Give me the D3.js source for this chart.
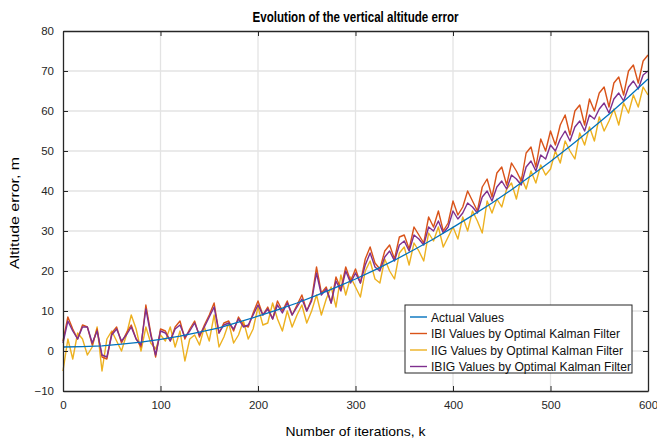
<!DOCTYPE html>
<html>
<head>
<meta charset="utf-8">
<script src="https://cdn.jsdelivr.net/npm/d3@7"></script>
<style>
  body { margin: 0; background: #fff; }
  text { font-family: "Liberation Sans", Arial, sans-serif; }
</style>
</head>
<body>
<div id="chart"></div>
<script>
const MARGIN = {TOP: 31, BOTTOM: 49, LEFT: 63, RIGHT: 9}
const W = 657, H = 440
const WIDTH = W - MARGIN.LEFT - MARGIN.RIGHT
const HEIGHT = H - MARGIN.TOP - MARGIN.BOTTOM

// actual values, every 20 iterations
const actualK = [0, 20, 40, 60, 80, 100, 120, 140, 160, 180, 200, 220, 240, 260, 280, 300,
  320, 340, 360, 380, 400, 420, 440, 460, 480, 500, 520, 540, 560, 580, 600]
const actual = [1.0, 1.1, 1.3, 1.7, 2.2, 2.9, 3.7, 4.7, 5.8, 7.2, 8.7, 10.3, 12.0, 13.9, 15.9, 18.0,
  20.3, 22.7, 25.3, 28.0, 30.9, 33.9, 37.0, 40.3, 43.8, 47.4, 51.2, 55.1, 59.2, 63.5, 68.0]

// filter estimates, every 5 iterations (0..600)
const iters = d3.range(0, 601, 5)
const ibi = [2.5, 8.5, 5.5, 3, 6.5, 6, 1.5, 5.5, -1.5, -2, 4.5, 6, 2, 4.5, 6.5, 3, 1, 11.5, 4.5, -1.5,
  5.5, 5, 2.5, 6, 7.5, 3, 5.5, 7.5, 3.5, 6.5, 9, 12, 4.5, 7, 7.5, 5, 8.5, 6.5, 6, 9.5,
  12.5, 9, 11, 8, 12.5, 10, 12.5, 9, 11.5, 14, 10, 13, 21, 14.5, 16, 12, 18.5, 15.5, 21, 17.5,
  20.5, 17, 23, 26, 22, 20.5, 25, 26.5, 23, 28.5, 29, 25.5, 31, 29, 27, 33.5, 31, 35, 30, 32,
  37.5, 34, 36, 40, 37.5, 35, 41, 43, 38.5, 44.5, 46, 41.5, 47, 45, 42.5, 49.5, 51, 46, 53, 50,
  55, 51.5, 56.5, 59, 54, 60, 61.5, 56.5, 63, 60, 64.5, 66, 61, 67, 68.5, 64, 70, 71.5, 67, 72.5, 74]
const iig = [-5, 3, -2, 4.5, 3, -1, 1, 6, -5, 3, 5, 2.5, 0, 4, 9, 5.5, 0, 6, 2, 0.5,
  4, 2.5, 6, 1, 5, -2.5, 3, 4, 1.5, 6, 2.5, 9, 1, 3.5, 7, 2, 4, 7.5, 3, 5.5,
  11, 6.5, 7, 12, 8, 5, 10, 6, 9, 11.5, 7, 10, 14, 9, 13, 16, 11, 19, 14, 18.5,
  16, 13.5, 20, 22.5, 18, 17, 23, 20, 18, 24.5, 26, 21.5, 27, 25, 22.5, 29.5, 27.5, 31, 26, 28.5,
  31, 28, 33.5, 30, 35, 32.5, 29.5, 37.5, 34.5, 38, 36, 40.5, 42, 38, 43.5, 40.5, 45, 42, 46.5, 44,
  45.5, 50, 47, 52.5, 50, 48, 54.5, 51.5, 56, 52.5, 58.5, 55, 57.5, 60.5, 56.5, 62, 59.5, 64, 61, 66, 64]
const ibig = [2, 7.5, 5, 3, 6, 6, 2, 5, -1, -1.5, 4, 5.5, 2.5, 4, 6, 3, 1.5, 10.5, 4, -1,
  5, 4.5, 2.5, 5.5, 6.5, 3.5, 5, 7, 4, 6, 8.5, 11, 4.5, 6.5, 7, 5.5, 8, 6, 6.5, 9,
  11.5, 9, 10.5, 8, 11.5, 9.5, 12, 9, 11, 13, 10, 12.5, 19.5, 14, 15.5, 12, 17.5, 15, 20, 17,
  19.5, 17, 21.5, 24.5, 21, 20, 23.5, 25, 22.5, 26.5, 27.5, 25, 29, 28, 26.5, 31, 30, 32.5, 29.5, 31,
  35, 33, 34.5, 37, 36, 34.5, 38.5, 40, 37.5, 41, 42.5, 40.5, 44, 43, 41.5, 46, 47.5, 45, 49, 48,
  51.5, 50, 53, 55, 52.5, 56, 57.5, 55, 59, 58, 60.5, 62, 59.5, 63, 64.5, 62.5, 66, 67.5, 65.5, 69, 70]

const xTicks = [0, 100, 200, 300, 400, 500, 600]
const yTicks = [-10, 0, 10, 20, 30, 40, 50, 60, 70, 80]
const names = ['Actual Values', 'IBI Values by Optimal Kalman Filter',
  'IIG Values by Optimal Kalman Filter', 'IBIG Values by Optimal Kalman Filter']
const nameWidths = [73, 189, 192, 200]
const colors = ['#0072BD', '#D95319', '#EDB120', '#7E2F8E']

const svg = d3.select('#chart').append('svg')
  .attr('width', W).attr('height', H)
const g = svg.append('g')
  .attr('transform', `translate(${MARGIN.LEFT}, ${MARGIN.TOP})`)

const x = d3.scaleLinear().domain([0, 600]).range([0, WIDTH])
const y = d3.scaleLinear().domain([-10, 80]).range([HEIGHT, 0])

// grid
g.append('g').selectAll('line').data(xTicks.slice(1, -1)).enter().append('line')
  .attr('x1', d => x(d)).attr('x2', d => x(d)).attr('y1', 0).attr('y2', HEIGHT)
  .attr('stroke', '#e3e3e3').attr('stroke-width', 1.3)
g.append('g').selectAll('line').data(yTicks.slice(1, -1)).enter().append('line')
  .attr('y1', d => y(d)).attr('y2', d => y(d)).attr('x1', 0).attr('x2', WIDTH)
  .attr('stroke', '#e3e3e3').attr('stroke-width', 1.3)

// series
const line = d3.line().x(d => x(d[0])).y(d => y(d[1]))
const series = [
  d3.zip(actualK, actual),
  d3.zip(iters, ibi),
  d3.zip(iters, iig),
  d3.zip(iters, ibig)
]
const order = [2, 1, 3, 0]
order.forEach(i => {
  g.append('path')
    .datum(series[i])
    .attr('d', line)
    .attr('fill', 'none')
    .attr('stroke', colors[i])
    .attr('stroke-width', i === 0 ? 1.3 : 1.4)
    .attr('stroke-linejoin', 'round')
})

// axes with inward ticks
const styleAxis = sel => {
  sel.select('.domain').attr('stroke', '#262626').attr('stroke-width', 1.3)
  sel.selectAll('.tick line').attr('stroke', '#262626')
  sel.selectAll('text').attr('font-size', 11.5).attr('fill', '#262626')
}
g.append('g').attr('transform', `translate(0, ${HEIGHT})`)
  .call(d3.axisBottom(x).tickValues(xTicks).tickSize(-5).tickSizeOuter(0).tickPadding(10))
  .call(styleAxis)
g.append('g')
  .call(d3.axisLeft(y).tickValues(yTicks).tickSize(-5).tickSizeOuter(0).tickPadding(9))
  .call(styleAxis)
g.append('g')
  .call(d3.axisTop(x).tickValues(xTicks).tickSize(-5).tickSizeOuter(0).tickFormat(''))
  .call(styleAxis)
g.append('g').attr('transform', `translate(${WIDTH}, 0)`)
  .call(d3.axisRight(y).tickValues(yTicks).tickSize(-5).tickSizeOuter(0).tickFormat(''))
  .call(styleAxis)

// titles
svg.append('text')
  .attr('x', MARGIN.LEFT + WIDTH / 2).attr('y', 22)
  .attr('text-anchor', 'middle').attr('font-size', 14.5).attr('font-weight', 'bold')
  .attr('textLength', 206).attr('lengthAdjust', 'spacingAndGlyphs')
  .text('Evolution of the vertical altitude error')
svg.append('text')
  .attr('x', MARGIN.LEFT + WIDTH / 2).attr('y', 436)
  .attr('text-anchor', 'middle').attr('font-size', 13)
  .attr('textLength', 140).attr('lengthAdjust', 'spacingAndGlyphs')
  .text('Number of iterations, k')
svg.append('text')
  .attr('transform', `translate(19, ${MARGIN.TOP + HEIGHT / 2 + 2}) rotate(-90)`)
  .attr('text-anchor', 'middle').attr('font-size', 13)
  .attr('textLength', 112).attr('lengthAdjust', 'spacingAndGlyphs')
  .text('Altitude error, m')

// legend
const legend = svg.append('g').attr('transform', 'translate(405, 305)')
legend.append('rect')
  .attr('width', 227).attr('height', 68)
  .attr('fill', '#fff').attr('stroke', '#262626').attr('stroke-width', 1)
const item = legend.selectAll('.item').data(names).enter().append('g')
  .attr('transform', (d, i) => `translate(0, ${12 + i * 16.5})`)
item.append('line')
  .attr('x1', 5).attr('x2', 22)
  .attr('stroke', (d, i) => colors[i]).attr('stroke-width', 1.4)
item.append('text')
  .attr('x', 26).attr('y', 4.5)
  .attr('font-size', 12.5).attr('fill', '#111')
  .attr('textLength', (d, i) => nameWidths[i]).attr('lengthAdjust', 'spacingAndGlyphs')
  .text(d => d)
</script>
</body>
</html>
